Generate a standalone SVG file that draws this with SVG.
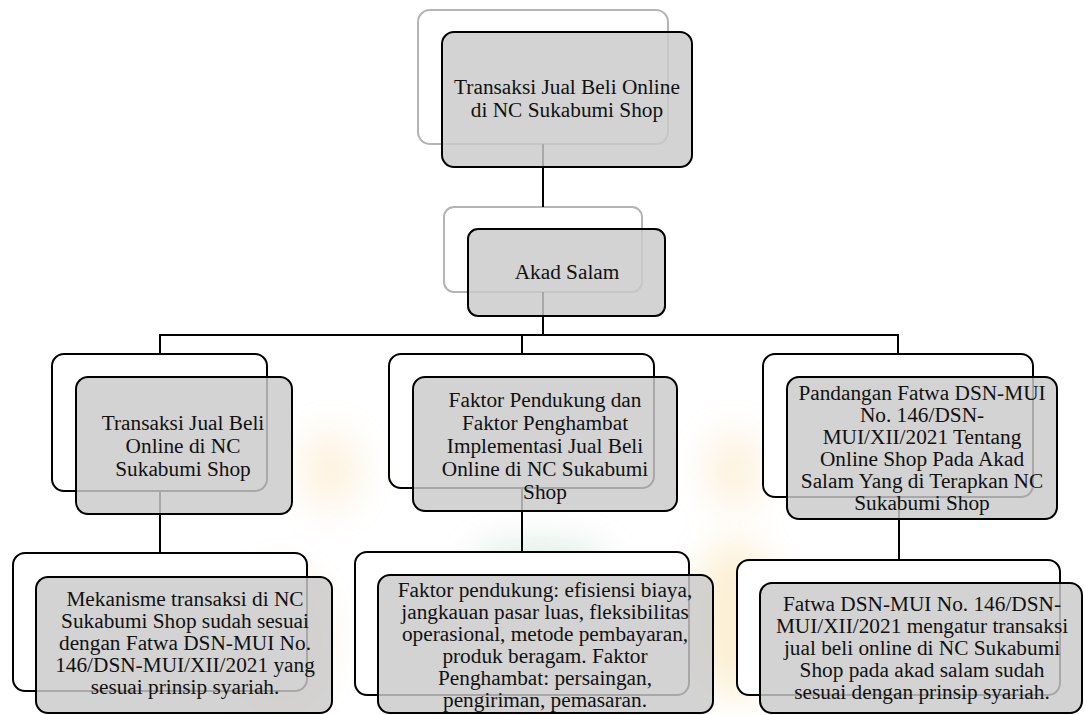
<svg xmlns="http://www.w3.org/2000/svg" width="1085" height="715" viewBox="0 0 1085 715">
<style>
.bg{fill:#ffffff}
.back{fill:#ffffff;stroke:#000;stroke-width:2}
.backgray{fill:#ffffff;stroke:#b4b4b4;stroke-width:2}
.front{fill:#cacaca;fill-opacity:0.83;stroke:#000;stroke-width:2}
.conn{fill:none;stroke:#000;stroke-width:2}
text{font-family:"Liberation Serif","Times New Roman",serif;font-size:21.3px;fill:#111;text-anchor:middle}
</style>
<defs>
<filter id="blur" x="-50%" y="-50%" width="200%" height="200%"><feGaussianBlur stdDeviation="18"/></filter>
</defs>
<rect class="bg" x="0" y="0" width="1085" height="715"/>
<g id="watermark" filter="url(#blur)" opacity="0.2">
<ellipse cx="280" cy="640" rx="45" ry="70" fill="#f0a030"/>
<ellipse cx="735" cy="620" rx="45" ry="80" fill="#f0b830"/>
<ellipse cx="540" cy="560" rx="70" ry="20" fill="#60b080"/>
<ellipse cx="330" cy="470" rx="30" ry="40" fill="#f5c060"/>
<ellipse cx="735" cy="470" rx="30" ry="40" fill="#f5c060"/>
</g>
<g id="back-boxes">
<rect class="backgray" x="418" y="10" width="250" height="134" rx="12"/>
<rect class="backgray" x="444" y="207" width="198" height="85" rx="10"/>
<rect class="back" x="52" y="354" width="215" height="137" rx="12"/>
<rect class="back" x="389" y="354" width="265" height="134" rx="12"/>
<rect class="back" x="763" y="354" width="270" height="143" rx="12"/>
<rect class="back" x="13" y="553" width="294" height="138" rx="12"/>
<rect class="back" x="355" y="552" width="334" height="143" rx="12"/>
<rect class="back" x="737" y="560" width="323" height="135" rx="12"/>
</g>
<g id="connectors">
<path class="conn" d="M543 144V207"/>
<path class="conn" d="M543 292V335"/>
<path class="conn" d="M160 354V335H898V354"/>
<path class="conn" d="M522 335V354"/>
<path class="conn" d="M160 491V553"/>
<path class="conn" d="M522 488V552"/>
<path class="conn" d="M899 497V560"/>
</g>
<g id="node-root">
<rect class="front" x="442" y="32" width="250" height="135" rx="12"/>
<text x="567" y="94">Transaksi Jual Beli Online</text>
<text x="567" y="117">di NC Sukabumi Shop</text>
</g>
<g id="node-akad">
<rect class="front" x="468" y="229" width="197" height="87" rx="10"/>
<text x="567" y="279">Akad Salam</text>
</g>
<g id="node-l1">
<rect class="front" x="76" y="377" width="216" height="137" rx="12"/>
<text x="183" y="430">Transaksi Jual Beli</text>
<text x="183" y="453">Online di NC</text>
<text x="183" y="476">Sukabumi Shop</text>
</g>
<g id="node-m1">
<rect class="front" x="413" y="377" width="264" height="134" rx="12"/>
<text x="545" y="407">Faktor Pendukung dan</text>
<text x="545" y="430">Faktor Penghambat</text>
<text x="545" y="453">Implementasi Jual Beli</text>
<text x="545" y="476">Online di NC Sukabumi</text>
<text x="545" y="499">Shop</text>
</g>
<g id="node-r1">
<rect class="front" x="787" y="377" width="270" height="142" rx="12"/>
<text x="922" y="400">Pandangan Fatwa DSN-MUI</text>
<text x="922" y="422">No. 146/DSN-</text>
<text x="922" y="444">MUI/XII/2021 Tentang</text>
<text x="922" y="466">Online Shop Pada Akad</text>
<text x="922" y="488">Salam Yang di Terapkan NC</text>
<text x="922" y="510">Sukabumi Shop</text>
</g>
<g id="node-l2">
<rect class="front" x="36" y="577" width="296" height="136" rx="12"/>
<text x="185" y="606">Mekanisme transaksi di NC</text>
<text x="185" y="628">Sukabumi Shop sudah sesuai</text>
<text x="185" y="650">dengan Fatwa DSN-MUI No.</text>
<text x="185" y="672">146/DSN-MUI/XII/2021 yang</text>
<text x="185" y="694">sesuai prinsip syariah.</text>
</g>
<g id="node-m2">
<rect class="front" x="378" y="575" width="335" height="138" rx="12"/>
<text x="545" y="597">Faktor pendukung: efisiensi biaya,</text>
<text x="545" y="619">jangkauan pasar luas, fleksibilitas</text>
<text x="545" y="641">operasional, metode pembayaran,</text>
<text x="545" y="663">produk beragam. Faktor</text>
<text x="545" y="685">Penghambat: persaingan,</text>
<text x="545" y="707">pengiriman, pemasaran.</text>
</g>
<g id="node-r2">
<rect class="front" x="760" y="583" width="322" height="130" rx="12"/>
<text x="922" y="611">Fatwa DSN-MUI No. 146/DSN-</text>
<text x="922" y="633">MUI/XII/2021 mengatur transaksi</text>
<text x="922" y="655">jual beli online di NC Sukabumi</text>
<text x="922" y="677">Shop pada akad salam sudah</text>
<text x="922" y="699">sesuai dengan prinsip syariah.</text>
</g>
</svg>
